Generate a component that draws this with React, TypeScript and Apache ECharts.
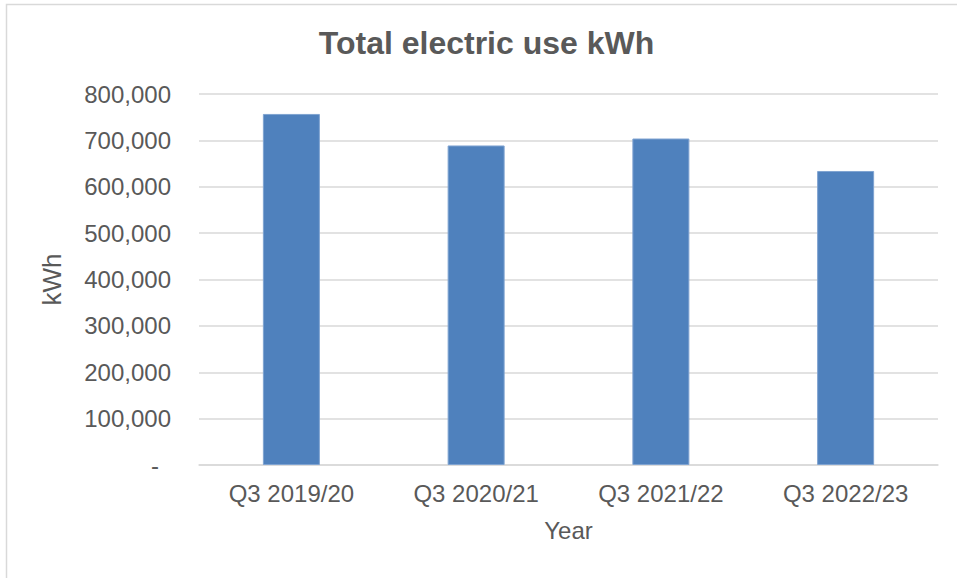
import React, { useEffect, useRef } from "react";
import * as echarts from "echarts";

const categories = ["Q3 2019/20", "Q3 2020/21", "Q3 2021/22", "Q3 2022/23"];
const electricUse = [757000, 689000, 704000, 634000];
const titleText = "Total electric use kWh";
const yAxisName = "kWh";
const xAxisName = "Year";

const FONT = "'Liberation Sans', Arial, sans-serif";
const TEXT = "#595959";

export default function App() {
  const ref = useRef<HTMLDivElement>(null);
  useEffect(() => {
    if (!ref.current) return;
    const chart = echarts.init(ref.current, null, { renderer: "svg" });
    chart.setOption({
      animation: false,
      backgroundColor: "#ffffff",
      textStyle: { fontFamily: FONT },
      graphic: [
        {
          type: "rect",
          shape: { x: 6.5, y: 4.5, width: 1000, height: 1000 },
          style: { fill: "none", stroke: "#d9d9d9", lineWidth: 1.5 },
          silent: true,
        },
        {
          type: "text",
          x: 486.5,
          y: 43,
          style: {
            text: titleText,
            font: `bold 32px ${FONT}`,
            fill: TEXT,
            align: "center",
            verticalAlign: "middle",
          },
        },
      ],
      grid: { left: 199, right: 19, top: 94, bottom: 113, containLabel: false },
      xAxis: {
        type: "category",
        data: categories,
        name: xAxisName,
        nameLocation: "middle",
        nameGap: 53,
        nameTextStyle: { fontSize: 24, color: TEXT, fontFamily: FONT },
        axisLine: { show: true, lineStyle: { color: "#d9d9d9", width: 1.5 } },
        axisTick: { show: false },
        axisLabel: { fontSize: 24, color: TEXT, margin: 16, fontFamily: FONT },
      },
      yAxis: {
        type: "value",
        min: 0,
        max: 800000,
        interval: 100000,
        name: yAxisName,
        nameLocation: "middle",
        nameRotate: 90,
        nameGap: 134,
        nameTextStyle: { fontSize: 26, color: TEXT, fontFamily: FONT },
        axisLine: { show: false },
        axisTick: { show: false },
        splitLine: { lineStyle: { color: "#d9d9d9", width: 1.5 } },
        axisLabel: {
          fontSize: 24,
          color: TEXT,
          margin: 28,
          fontFamily: FONT,
          formatter: (v: number) =>
            v === 0 ? "{z|-}" : v.toLocaleString("en-US"),
          rich: {
            z: { fontSize: 24, color: TEXT, fontFamily: FONT, padding: [0, 12, 0, 0] },
          },
        },
      },
      series: [
        {
          type: "bar",
          data: electricUse,
          barWidth: 57,
          itemStyle: { color: "#4f81bd", borderColor: "#7fa3d1", borderWidth: 1 },
        },
      ],
    });
    return () => chart.dispose();
  }, []);
  return (
    <div
      ref={ref}
      style={{ position: "absolute", left: 0, top: 0, width: 957, height: 578 }}
    />
  );
}
